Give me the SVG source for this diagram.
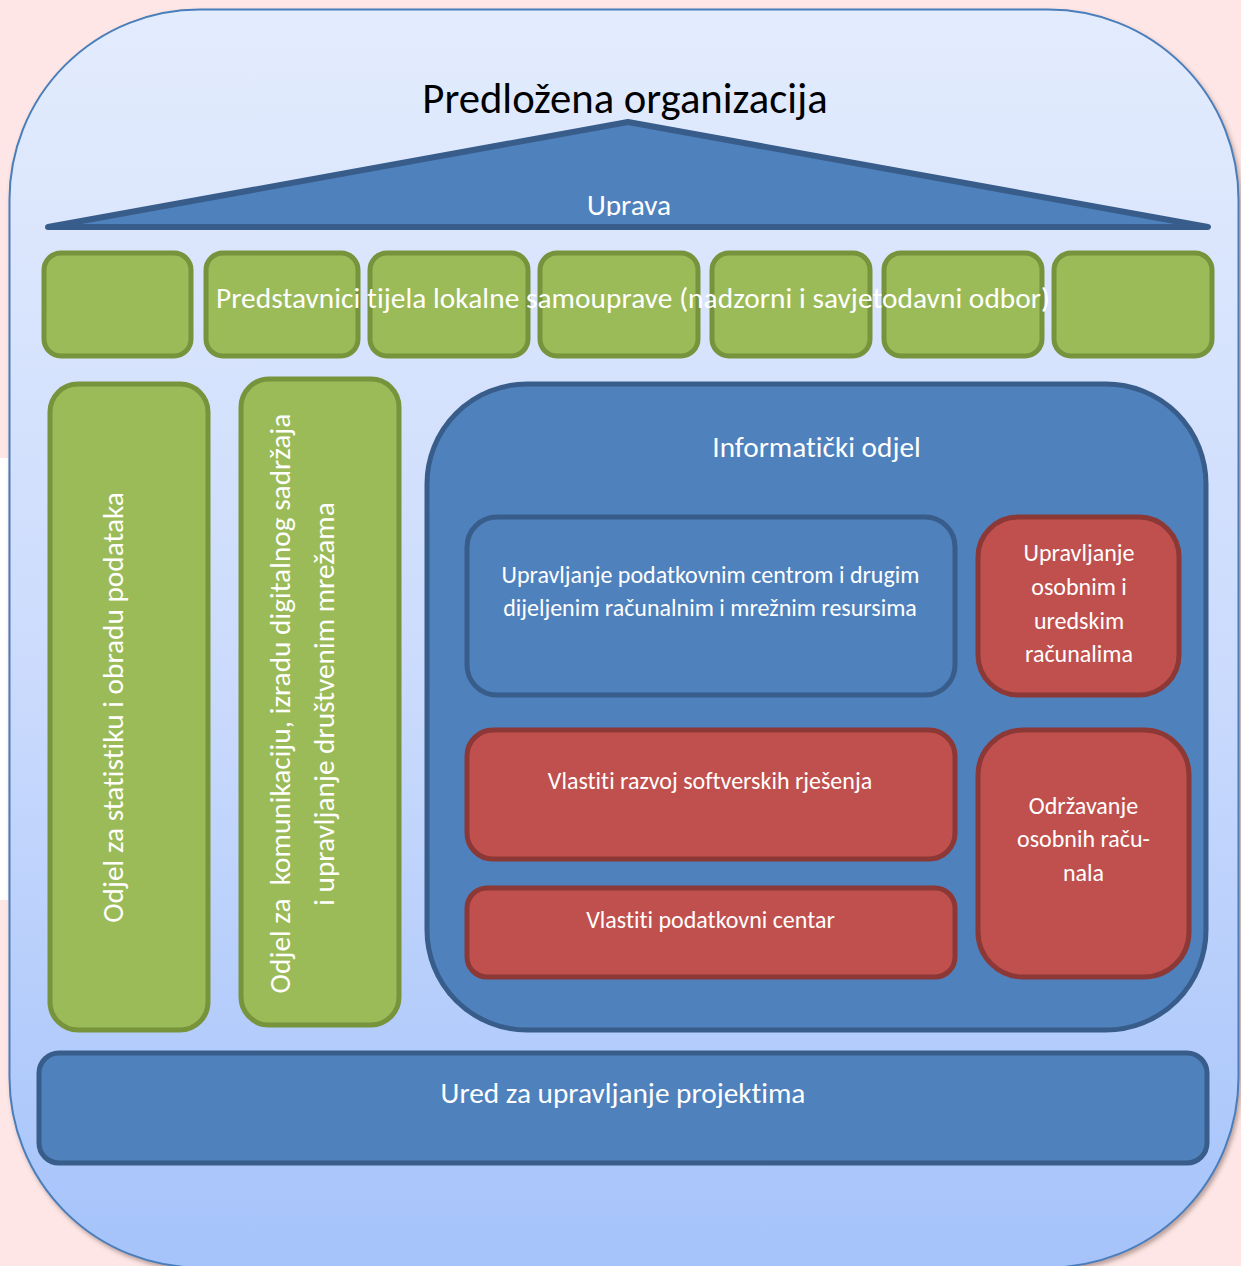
<svg xmlns="http://www.w3.org/2000/svg" width="1241" height="1266" viewBox="0 0 1241 1266">
  <defs>
    <linearGradient id="panelFill" x1="0" y1="0" x2="0" y2="1">
      <stop offset="0" stop-color="#e3ecfd"/>
      <stop offset="0.5" stop-color="#cddcfd"/>
      <stop offset="1" stop-color="#a5c3fa"/>
    </linearGradient>
    <filter id="panelShadow" x="-5%" y="-5%" width="110%" height="110%">
      <feDropShadow dx="2" dy="3" stdDeviation="2" flood-color="#6b4a40" flood-opacity="0.45"/>
    </filter>
    <clipPath id="roofText">
      <rect x="0" y="150" width="1241" height="66"/>
    </clipPath>
  </defs>
  <style>
    text { font-family: Carlito, Lato, "Open Sans", sans-serif; fill: #ffffff; font-variant-ligatures: none; font-feature-settings: "liga" 0, "clig" 0; }
    .title { fill: #000000; font-size: 42.7px; }
    .big { font-size: 29.3px; }
    .small { font-size: 24px; }
    .green { fill: #9bbb59; stroke: #77933c; stroke-width: 5; }
    .blue { fill: #4f81bd; stroke: #385d8a; stroke-width: 5; }
    .red { fill: #c0504d; stroke: #8c3836; stroke-width: 5; }
    .mid { text-anchor: middle; }
  </style>

  <!-- page background -->
  <rect x="0" y="0" width="1241" height="1266" fill="#fde6e5"/>
  <rect x="0" y="458" width="8" height="442" fill="#ffffff"/>

  <!-- outer frame -->
  <g id="frame">
    <rect x="9.5" y="9.5" width="1229" height="1258" rx="190" ry="190" fill="url(#panelFill)" stroke="#4a7ebb" stroke-width="2" filter="url(#panelShadow)"/>
    <text class="title mid" x="625" y="112.5">Predložena organizacija</text>
  </g>

  <!-- roof: management -->
  <g id="uprava">
    <polygon points="48,227 628,122 1208,227" fill="#4f81bd" stroke="#385d8a" stroke-width="6" stroke-linejoin="round"/>
    <text class="big mid" x="629" y="214.5" clip-path="url(#roofText)">Uprava</text>
  </g>

  <!-- row of local government representatives -->
  <g id="predstavnici">
    <rect class="green" x="44" y="253" width="147" height="103" rx="17"/>
    <rect class="green" x="206" y="253" width="152" height="103" rx="17"/>
    <rect class="green" x="370" y="253" width="158" height="103" rx="17"/>
    <rect class="green" x="540" y="253" width="158" height="103" rx="17"/>
    <rect class="green" x="712" y="253" width="158" height="103" rx="17"/>
    <rect class="green" x="884" y="253" width="158" height="103" rx="17"/>
    <rect class="green" x="1054" y="253" width="158" height="103" rx="17"/>
    <text class="big" x="216" y="308" textLength="834" lengthAdjust="spacing">Predstavnici tijela lokalne samouprave (nadzorni i savjetodavni odbor)</text>
  </g>

  <!-- statistics department -->
  <g id="odjel-statistika">
    <rect class="green" x="50" y="384" width="158" height="646" rx="28"/>
    <text class="big mid" transform="translate(123 707.5) rotate(-90)">Odjel za statistiku i obradu podataka</text>
  </g>

  <!-- communications department -->
  <g id="odjel-komunikacija">
    <rect class="green" x="241" y="379" width="158" height="646" rx="28"/>
    <text class="big mid" transform="translate(290 703.5) rotate(-90)" xml:space="preserve">Odjel za  komunikaciju, izradu digitalnog sadržaja</text>
    <text class="big mid" transform="translate(334 704) rotate(-90)">i upravljanje društvenim mrežama</text>
  </g>

  <!-- IT department -->
  <g id="informaticki-odjel">
    <rect class="blue" x="427" y="384" width="779" height="646" rx="100"/>
    <text class="big mid" x="816.5" y="456.5">Informatički odjel</text>
  </g>

  <g id="podatkovni-centar-resursi">
    <rect class="blue" x="467" y="517" width="488" height="178" rx="30"/>
    <text class="small mid" x="710.5" y="582.5">Upravljanje podatkovnim centrom i drugim</text>
    <text class="small mid" x="710" y="615.5">dijeljenim računalnim i mrežnim resursima</text>
  </g>

  <g id="osobna-racunala">
    <rect class="red" x="978" y="517" width="201" height="178" rx="40"/>
    <text class="small mid" x="1079" y="560.5">Upravljanje</text>
    <text class="small mid" x="1079" y="594.5">osobnim i</text>
    <text class="small mid" x="1079" y="628.5">uredskim</text>
    <text class="small mid" x="1079" y="661.5">računalima</text>
  </g>

  <g id="razvoj-softvera">
    <rect class="red" x="467" y="730" width="488" height="129" rx="26"/>
    <text class="small mid" x="710" y="788.5">Vlastiti razvoj softverskih rješenja</text>
  </g>

  <g id="vlastiti-centar">
    <rect class="red" x="467" y="888" width="488" height="89" rx="20"/>
    <text class="small mid" x="710.5" y="927.5">Vlastiti podatkovni centar</text>
  </g>

  <g id="odrzavanje">
    <rect class="red" x="978" y="730" width="211" height="247" rx="45"/>
    <text class="small mid" x="1083.5" y="813.5">Održavanje</text>
    <text class="small mid" x="1083.5" y="846.5">osobnih raču-</text>
    <text class="small mid" x="1083.5" y="880.5">nala</text>
  </g>

  <!-- project office -->
  <g id="ured-projekti">
    <rect class="blue" x="39" y="1053" width="1168" height="110" rx="20"/>
    <text class="big mid" x="623" y="1102.5">Ured za upravljanje projektima</text>
  </g>

  <g id="connectors"/>
</svg>
